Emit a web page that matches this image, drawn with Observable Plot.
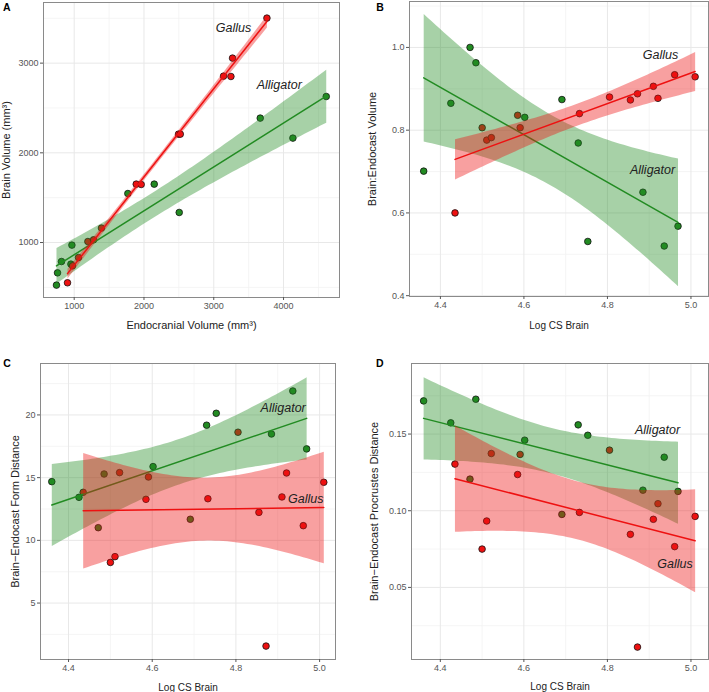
<!DOCTYPE html>
<html><head><meta charset="utf-8">
<script src="https://cdn.jsdelivr.net/npm/d3@7"></script>
<script src="https://cdn.jsdelivr.net/npm/@observablehq/plot@0.6"></script>
<style>
body{margin:0;background:#fff;}
#grid{display:grid;grid-template-columns:354px 355px;grid-template-rows:346px 346px;width:709px;height:692px;}
#grid svg{display:block;overflow:visible;}
</style></head><body><div id="grid"></div>
<script>
const FONT = "'Liberation Sans', Arial, Helvetica, sans-serif";
const species = ["Alligator", "Gallus"];
const speciesColors = ["#228b22", "#ee1111"];

// Panel A: endocranial volume vs brain volume
const alligatorEndocranial = [746, 761, 818, 953, 967, 1769, 2147, 2505, 3666, 4134, 4612];
const alligatorBrainVolume = [525, 662, 788, 759, 971, 1546, 1651, 1335, 2387, 2164, 2628];
const gallusEndocranial = [904, 976, 1062, 1196, 1277, 1391, 1889, 1960, 2495, 2520, 3140, 3246, 3269, 3762];
const gallusBrainVolume = [551, 740, 833, 1011, 1030, 1161, 1651, 1647, 2208, 2208, 2855, 2851, 3056, 3502];

// Panels B-D: Log CS Brain
const alligatorLogCS = [4.360, 4.425, 4.471, 4.485, 4.602, 4.691, 4.730, 4.753, 4.885, 4.936, 4.969];
const gallusLogCS = [4.435, 4.500, 4.511, 4.522, 4.585, 4.591, 4.733, 4.805, 4.855, 4.872, 4.910, 4.921, 4.961, 5.010];

const alligatorRatio = [0.701, 0.865, 1.000, 0.963, 0.831, 0.874, 0.769, 0.531, 0.650, 0.520, 0.568];
const gallusRatio = [0.600, 0.806, 0.776, 0.782, 0.836, 0.806, 0.840, 0.880, 0.873, 0.888, 0.906, 0.877, 0.934, 0.929];

const alligatorFormDist = [14.68, 13.43, 11.01, 15.29, 15.88, 11.68, 19.18, 20.13, 18.48, 21.91, 17.29];
const gallusFormDist = [13.83, 8.24, 8.70, 15.40, 13.27, 15.05, 13.32, 18.62, 12.23, 1.57, 13.46, 15.37, 11.17, 14.63];

const alligatorProcDist = [0.1716, 0.1573, 0.1206, 0.1727, 0.1460, 0.0976, 0.1560, 0.1492, 0.1134, 0.1349, 0.1126];
const gallusProcDist = [0.1304, 0.0750, 0.0933, 0.1373, 0.1236, 0.1367, 0.0989, 0.1395, 0.0846, 0.0111, 0.0944, 0.1046, 0.0766, 0.0963];

// Ticks
const aXTicks = [1000, 2000, 3000, 4000], aXMinor = [1500, 2500, 3500, 4500];
const aYTicks = [1000, 2000, 3000], aYMinor = [500, 1500, 2500, 3500];
const csTicks = [4.4, 4.6, 4.8, 5.0], csMinor = [4.5, 4.7, 4.9];
const bYTicks = [0.4, 0.6, 0.8, 1.0], bYMinor = [0.5, 0.7, 0.9, 1.1];
const cYTicks = [5, 10, 15, 20], cYMinor = [2.5, 7.5, 12.5, 17.5, 22.5];
const dYTicks = [0.05, 0.10, 0.15], dYMinor = [0.025, 0.075, 0.125, 0.175];

// Species labels
const aLabels = [{x: 3284, y: 3390, t: "Gallus"}, {x: 3938, y: 2755, t: "Alligator"}];
const bLabels = [{x: 4.927, y: 0.981, t: "Gallus"}, {x: 4.908, y: 0.703, t: "Alligator"}];
const cLabels = [{x: 4.913, y: 20.59, t: "Alligator"}, {x: 4.967, y: 13.27, t: "Gallus"}];
const dLabels = [{x: 4.920, y: 0.1529, t: "Alligator"}, {x: 4.962, y: 0.0655, t: "Gallus"}];

const rows = (xs, ys) => xs.map((x, i) => ({x, y: ys[i]}));

function panel(o) {
  const [ca, cg] = speciesColors;
  const alli = rows(o.ax, o.ay), gall = rows(o.gx, o.gy);
  return Plot.plot({
    width: o.w, height: 346,
    marginTop: o.m[0], marginRight: o.m[1], marginBottom: o.m[2], marginLeft: o.m[3],
    style: {fontFamily: FONT, background: "white", overflow: "visible"},
    x: {domain: o.xDomain}, y: {domain: o.yDomain},
    marks: [
      Plot.gridX(o.xMinor, {stroke: "#f3f3f3", strokeOpacity: 1, strokeWidth: 0.8}),
      Plot.gridY(o.yMinor, {stroke: "#f3f3f3", strokeOpacity: 1, strokeWidth: 0.8}),
      Plot.gridX(o.xTicks, {stroke: "#e8e8e8", strokeOpacity: 1, strokeWidth: 1}),
      Plot.gridY(o.yTicks, {stroke: "#e8e8e8", strokeOpacity: 1, strokeWidth: 1}),
      Plot.dot(alli, {x: "x", y: "y", r: 3.3, fill: ca, stroke: "#111", strokeWidth: 0.8}),
      Plot.dot(gall, {x: "x", y: "y", r: 3.3, fill: cg, stroke: "#111", strokeWidth: 0.8}),
      Plot.linearRegressionY(alli, {x: "x", y: "y", stroke: ca, fill: ca, fillOpacity: 0.4, strokeWidth: 1.5, ci: 0.95}),
      Plot.linearRegressionY(gall, {x: "x", y: "y", stroke: cg, fill: cg, fillOpacity: 0.4, strokeWidth: 1.5, ci: 0.95}),
      Plot.frame({stroke: "#8a8a8a", strokeWidth: 1}),
      Plot.axisX({ticks: o.xTicks, tickFormat: o.xFmt, tickSize: 3, tickPadding: 2, fontSize: 9, color: "#555", label: null}),
      Plot.axisY({ticks: o.yTicks, tickFormat: o.yFmt, tickSize: 3, tickPadding: 2, fontSize: 9, color: "#555", label: null}),
      Plot.text([o.xLabel], {frameAnchor: "bottom", dy: o.xDy, text: d => d, textAnchor: "middle", lineAnchor: "middle", fontSize: o.xFs, fill: "#222"}),
      Plot.text([o.yLabel], {frameAnchor: "left", dx: o.yDx, rotate: -90, text: d => d, textAnchor: "middle", lineAnchor: "middle", fontSize: 11, fill: "#222"}),
      Plot.text([o.letter], {frameAnchor: "top-left", dx: o.lDx, dy: o.lDy, text: d => d, textAnchor: "start", lineAnchor: "middle", fontWeight: "bold", fontSize: 10.5, fill: "#000"}),
      Plot.text(o.labels, {x: "x", y: "y", text: "t", fontStyle: "italic", fontSize: 12.5, fill: "#222"})
    ]
  });
}

const g = document.getElementById("grid");
const f1 = d3.format(".1f"), fd = d3.format("d"), f2 = d3.format(".2f");

g.appendChild(panel({
  letter: "A", w: 354, m: [2, 15, 49, 43],
  xDomain: [560, 4802], yDomain: [387, 3676],
  xTicks: aXTicks, xMinor: aXMinor, yTicks: aYTicks, yMinor: aYMinor, xFmt: fd, yFmt: fd,
  ax: alligatorEndocranial, ay: alligatorBrainVolume, gx: gallusEndocranial, gy: gallusBrainVolume,
  xLabel: "Endocranial Volume (mm³)", yLabel: "Brain Volume (mm³)", xFs: 11,
  xDy: 28.3, yDx: -37.5, lDx: -40.5, lDy: 5, labels: aLabels
}));
g.appendChild(panel({
  letter: "B", w: 355, m: [1, 1, 50, 55],
  xDomain: [4.326, 5.042], yDomain: [0.398, 1.111],
  xTicks: csTicks, xMinor: csMinor, yTicks: bYTicks, yMinor: bYMinor, xFmt: f1, yFmt: f1,
  ax: alligatorLogCS, ay: alligatorRatio, gx: gallusLogCS, gy: gallusRatio,
  xLabel: "Log CS Brain", yLabel: "Brain:Endocast Volume", xFs: 10,
  xDy: 29.3, yDx: -37, lDx: -33.3, lDy: 6, labels: bLabels
}));
g.appendChild(panel({
  letter: "C", w: 354, m: [17, 19, 33, 40],
  xDomain: [4.333, 5.038], yDomain: [0.5, 24.1],
  xTicks: csTicks, xMinor: csMinor, yTicks: cYTicks, yMinor: cYMinor, xFmt: f1, yFmt: fd,
  ax: alligatorLogCS, ay: alligatorFormDist, gx: gallusLogCS, gy: gallusFormDist,
  xLabel: "Log CS Brain", yLabel: "Brain\u2212Endocast Form Distance", xFs: 10,
  xDy: 28, yDx: -25, lDx: -37.3, lDy: 0, labels: cLabels
}));
g.appendChild(panel({
  letter: "D", w: 355, m: [17, 1, 33, 57],
  xDomain: [4.331, 5.042], yDomain: [0.003, 0.196],
  xTicks: csTicks, xMinor: csMinor, yTicks: dYTicks, yMinor: dYMinor, xFmt: f1, yFmt: f2,
  ax: alligatorLogCS, ay: alligatorProcDist, gx: gallusLogCS, gy: gallusProcDist,
  xLabel: "Log CS Brain", yLabel: "Brain\u2212Endocast Procrustes Distance", xFs: 10,
  xDy: 27.4, yDx: -36.6, lDx: -35.6, lDy: 0, labels: dLabels
}));
</script></body></html>
